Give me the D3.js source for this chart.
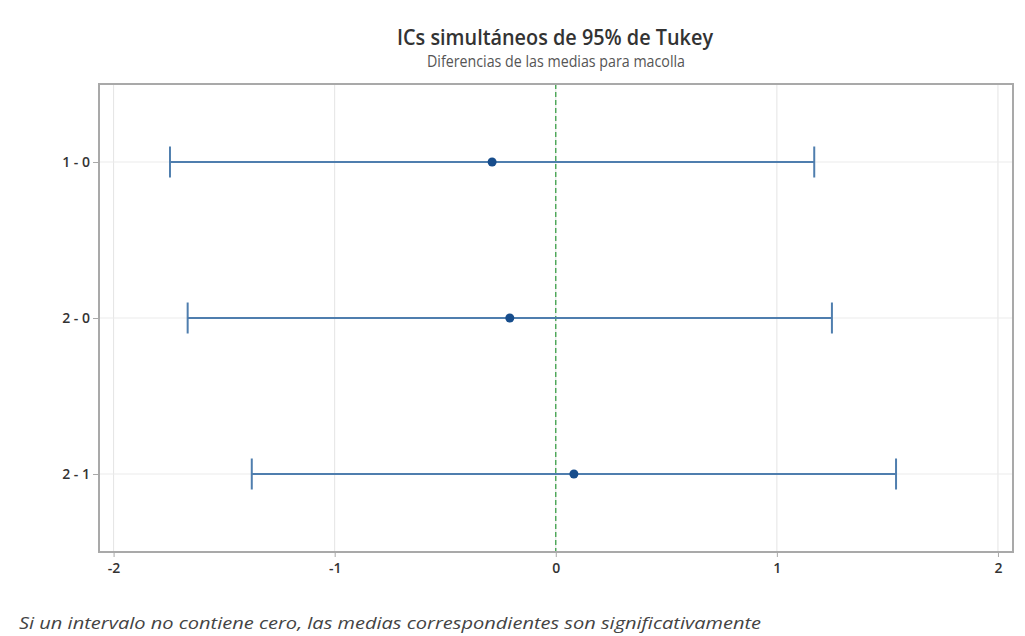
<!DOCTYPE html>
<html>
<head>
<meta charset="utf-8">
<script src="https://cdn.jsdelivr.net/npm/d3@7"></script>
<style>
  html, body { margin: 0; padding: 0; background: #ffffff; }
  svg { display: block; }
</style>
</head>
<body>
<svg id="chart" width="1025" height="636"></svg>
<script>
// ---- data ----
const comparisons = ["1 - 0", "2 - 0", "2 - 1"];
const diffMeans   = [-0.288, -0.208, 0.082];
const lowerCI     = [-1.745, -1.665, -1.375];
const upperCI     = [1.169, 1.249, 1.539];
const xTicks      = [-2, -1, 0, 1, 2];
const titleText    = "ICs simultáneos de 95% de Tukey";
const subtitleText = "Diferencias de las medias para macolla";
const footnoteText = "Si un intervalo no contiene cero, las medias correspondientes son significativamente";

// ---- layout ----
const svg = d3.select("#chart");
const plot = { left: 99, right: 1013, top: 84, bottom: 552 };
const font = "'Open Sans', 'Noto Sans', sans-serif";

const x = d3.scaleLinear().domain([-2.066, 2.068]).range([plot.left, plot.right]);
const y = d3.scalePoint().domain(comparisons).range([plot.top, plot.bottom]).padding(0.5);

// grid
const grid = svg.append("g");
grid.selectAll("line.vg").data(xTicks).join("line")
  .attr("x1", d => x(d)).attr("x2", d => x(d))
  .attr("y1", plot.top).attr("y2", plot.bottom)
  .attr("stroke", "#e4e4e4").attr("stroke-width", 1);
grid.selectAll("line.hg").data(comparisons).join("line")
  .attr("x1", plot.left).attr("x2", plot.right)
  .attr("y1", d => y(d)).attr("y2", d => y(d))
  .attr("stroke", "#ebebeb").attr("stroke-width", 1);

// zero reference line
svg.append("line")
  .attr("x1", x(0)).attr("x2", x(0))
  .attr("y1", plot.top).attr("y2", plot.bottom)
  .attr("stroke", "#2f9a3c").attr("stroke-width", 1.2)
  .attr("stroke-dasharray", "5,3");

// intervals
const rows = comparisons.map((c, i) => ({ c, m: diffMeans[i], lo: lowerCI[i], hi: upperCI[i] }));
const g = svg.append("g");
g.selectAll("line.ci").data(rows).join("line")
  .attr("x1", d => x(d.lo)).attr("x2", d => x(d.hi))
  .attr("y1", d => y(d.c)).attr("y2", d => y(d.c))
  .attr("stroke", "#4f7eae").attr("stroke-width", 2);
g.selectAll("line.capL").data(rows).join("line")
  .attr("x1", d => x(d.lo)).attr("x2", d => x(d.lo))
  .attr("y1", d => y(d.c) - 15.5).attr("y2", d => y(d.c) + 15.5)
  .attr("stroke", "#4f7eae").attr("stroke-width", 2);
g.selectAll("line.capR").data(rows).join("line")
  .attr("x1", d => x(d.hi)).attr("x2", d => x(d.hi))
  .attr("y1", d => y(d.c) - 15.5).attr("y2", d => y(d.c) + 15.5)
  .attr("stroke", "#4f7eae").attr("stroke-width", 2);
g.selectAll("circle").data(rows).join("circle")
  .attr("cx", d => x(d.m)).attr("cy", d => y(d.c)).attr("r", 4.5)
  .attr("fill", "#174d8c");

// frame
svg.append("rect")
  .attr("x", plot.left).attr("y", plot.top)
  .attr("width", plot.right - plot.left).attr("height", plot.bottom - plot.top)
  .attr("fill", "none").attr("stroke", "#a9a9a9").attr("stroke-width", 2);

// axes
const xAxis = d3.axisBottom(x).tickValues(xTicks).tickSize(5).tickPadding(6)
  .tickFormat(d => d3.format("d")(d).replace("−", "-"));
const xg = svg.append("g").attr("transform", `translate(0,${plot.bottom})`).call(xAxis);
xg.select(".domain").remove();
xg.selectAll(".tick line").attr("stroke", "#a9a9a9");
xg.selectAll(".tick text").attr("fill", "#333").attr("font-family", font)
  .attr("font-size", 14).attr("font-weight", 600);

const yAxis = d3.axisLeft(y).tickSize(6).tickPadding(3);
const yg = svg.append("g").attr("transform", `translate(${plot.left},0)`).call(yAxis);
yg.select(".domain").remove();
yg.selectAll(".tick line").attr("stroke", "#a9a9a9");
yg.selectAll(".tick text").attr("fill", "#333").attr("font-family", font)
  .attr("font-size", 14).attr("font-weight", 600);

// titles
svg.append("text").attr("x", 555).attr("y", 45).attr("text-anchor", "middle")
  .attr("font-family", font).attr("font-size", 21.5).attr("font-weight", 600)
  .attr("textLength", 316).attr("lengthAdjust", "spacingAndGlyphs")
  .attr("fill", "#333").text(titleText);
svg.append("text").attr("x", 556).attr("y", 67).attr("text-anchor", "middle")
  .attr("font-family", font).attr("font-size", 17)
  .attr("textLength", 258).attr("lengthAdjust", "spacingAndGlyphs")
  .attr("fill", "#555").text(subtitleText);

// footnote
svg.append("text").attr("x", 19).attr("y", 629)
  .attr("font-family", font).attr("font-size", 16).attr("font-style", "italic")
  .attr("textLength", 742).attr("lengthAdjust", "spacingAndGlyphs")
  .attr("fill", "#444").text(footnoteText);
</script>
</body>
</html>
